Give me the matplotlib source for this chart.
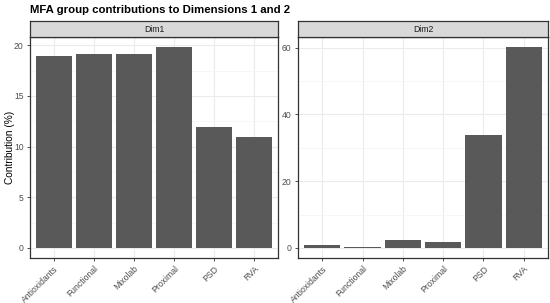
"""
MFA group contributions to dimensions 1 and 2 (faceted bar chart)
"""
import numpy as np
from matplotlib import pyplot as plt
from matplotlib.ticker import MultipleLocator

plt.rcParams['font.family'] = ['Liberation Sans', 'DejaVu Sans']

groups = ['Antioxidants', 'Functional', 'Mixolab', 'Proximal', 'PSD', 'RVA']
dim1 = [18.95, 19.18, 19.18, 19.83, 11.89, 11.0]
dim2 = [1.0, 0.3, 2.4, 1.9, 33.9, 60.2]
panels = ['Dim1', 'Dim2']

W, H = 550, 303
BAR = '#595959'
GRID = '#ebebeb'
BORDER = '#333333'


def px(x0, y0, x1, y1):
    # pixel box (top-left origin) -> figure fraction rect
    return [x0 / W, 1 - y1 / H, (x1 - x0) / W, (y1 - y0) / H]


def draw_panel(fig, rect, strip_rect, values, label, major, minor):
    ax = fig.add_axes(rect)
    x = np.arange(len(groups))
    ax.bar(x, values, width=0.9, color=BAR, zorder=3)
    top = max(values)
    pad = top * 0.05
    ax.set_ylim(-pad, top + pad)
    ax.set_xlim(-0.6, len(groups) - 0.4)
    ax.yaxis.set_major_locator(MultipleLocator(major))
    ax.yaxis.set_minor_locator(MultipleLocator(minor))
    ax.grid(which='major', color=GRID, linewidth=0.8, zorder=0)
    ax.grid(which='minor', axis='y', color='#f4f4f4', linewidth=0.5, zorder=0)
    ax.set_axisbelow(True)
    ax.set_xticks(x)
    ax.set_xticklabels(groups, rotation=45, ha='right', rotation_mode='anchor')
    ax.tick_params(axis='both', which='major', length=2.5, width=0.6,
                   color=BORDER, labelsize=6.2, labelcolor='#4d4d4d', pad=2)
    ax.tick_params(axis='y', which='minor', length=0)
    for s in ax.spines.values():
        s.set_color(BORDER)
        s.set_linewidth(0.9)

    sax = fig.add_axes(strip_rect)
    sax.set_facecolor('#d9d9d9')
    sax.set_xticks([])
    sax.set_yticks([])
    for s in sax.spines.values():
        s.set_color(BORDER)
        s.set_linewidth(0.9)
    sax.text(0.5, 0.5, label, ha='center', va='center', fontsize=6.2,
             color='#1a1a1a', transform=sax.transAxes)
    return ax


fig = plt.figure(figsize=(W / 100, H / 100), dpi=100)

ax1 = draw_panel(fig, px(30, 37, 278, 258), px(30, 21, 278, 37), dim1, panels[0], 5, 2.5)
ax2 = draw_panel(fig, px(298, 37, 548, 258), px(298, 21, 548, 37), dim2, panels[1], 20, 10)

ax1.set_ylabel('Contribution (%)', fontsize=7.3, va='center')
ax1.yaxis.set_label_coords(-20 / 248, 0.5)

fig.text(30 / W, 1 - 10 / H, 'MFA group contributions to Dimensions 1 and 2',
         fontsize=8.2, fontweight='bold', va='center', ha='left')

plt.savefig('out.png', dpi=100)
